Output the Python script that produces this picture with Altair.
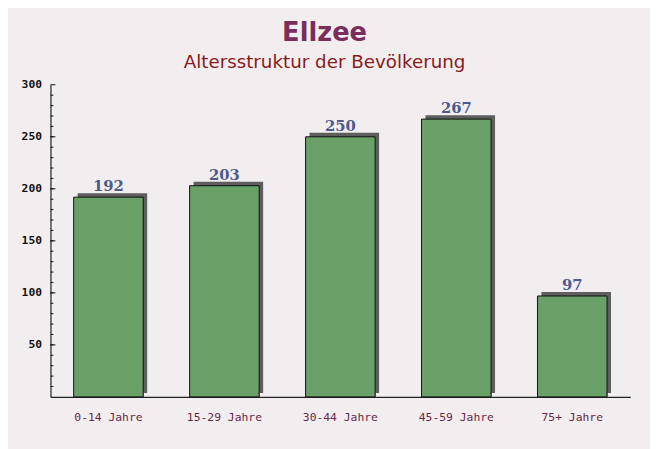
import altair as alt
import pandas as pd

categories = ["0-14 Jahre", "15-29 Jahre", "30-44 Jahre", "45-59 Jahre", "75+ Jahre"]
values = [192, 203, 250, 267, 97]
major_ticks = [50, 100, 150, 200, 250, 300]
minor_ticks = list(range(10, 300, 10))

df = pd.DataFrame({"cat": categories, "val": values})
major_df = pd.DataFrame({"t": major_ticks})
minor_df = pd.DataFrame({"t": minor_ticks})

W, H = 587, 316

xenc = alt.X("cat:N", sort=categories,
             scale=alt.Scale(paddingInner=0.4, paddingOuter=0.2),
             axis=alt.Axis(title=None, labelAngle=0, labelFont="DejaVu Sans Mono",
                           labelFontSize=11.5, labelColor="#6b2748", labelPadding=15,
                           ticks=False, domainColor="#222222", domainWidth=1.2))
yscale = alt.Scale(domain=[0, 300])
yenc = alt.Y("val:Q", scale=yscale,
             axis=alt.Axis(title=None, values=major_ticks, labelFont="DejaVu Sans Mono",
                           labelFontWeight="bold", labelFontSize=11.5, labelColor="#111111",
                           labelPadding=9, ticks=False, grid=False,
                           domainColor="#222222", domainWidth=1.2))

shadow = alt.Chart(df).mark_bar(color="#5e5e5e", xOffset=4, yOffset=-4).encode(
    x=xenc, y=yenc)
bars = alt.Chart(df).mark_bar(color="#68a068", stroke="#111111", strokeWidth=1).encode(
    x=xenc, y=yenc)
labels = alt.Chart(df).mark_text(font="DejaVu Serif", fontWeight="bold", fontSize=15,
                                 color="#4e5a8e", baseline="alphabetic", dy=-6).encode(
    x=alt.X("cat:N", sort=categories), y=alt.Y("val:Q", scale=yscale), text="val:Q")

ymaj = alt.Chart(major_df).mark_rule(color="#111111").encode(
    y=alt.Y("t:Q", scale=yscale), x=alt.value(0), x2=alt.value(5))
ymin = alt.Chart(minor_df).mark_rule(color="#111111").encode(
    y=alt.Y("t:Q", scale=yscale), x=alt.value(0), x2=alt.value(3))
xt = alt.Chart(df).mark_rule(color="#6b2748").encode(
    x=alt.X("cat:N", sort=categories, bandPosition=1),
    y=alt.value(H), y2=alt.value(H - 6))

chart = alt.layer(shadow, bars, labels, ymaj, ymin, xt).properties(
    width=W, height=H,
    title=alt.TitleParams(
        text="Ellzee", subtitle="Altersstruktur der Bevölkerung",
        font="DejaVu Sans", fontSize=26, fontWeight="bold", color="#7a2e5c",
        subtitleFont="DejaVu Sans", subtitleFontSize=18.5, subtitleColor="#8b1a1a",
        subtitlePadding=8, anchor="middle", dx=-16, offset=7),
    padding={"left": 43, "top": 75, "right": 20, "bottom": 50},
    autosize=alt.AutoSizeParams(type="none"),
    background="#f2eef0",
).configure_view(stroke=None)

chart.save("out.html", embed_options={"renderer": "svg", "actions": False})
